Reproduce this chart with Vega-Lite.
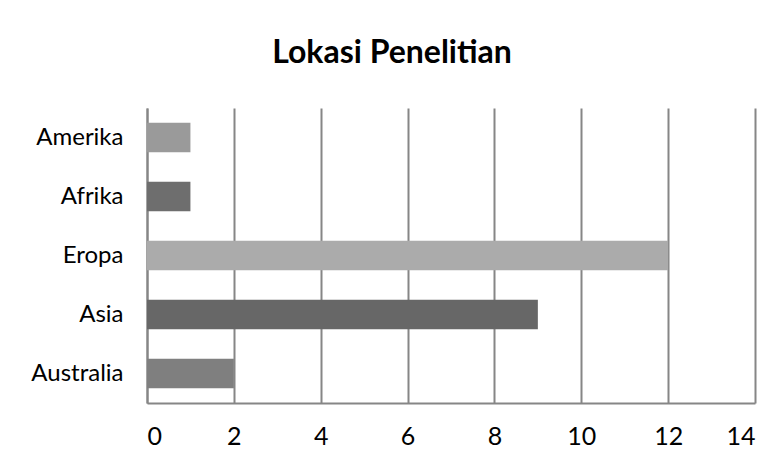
{
  "$schema": "https://vega.github.io/schema/vega-lite/v6.json",
  "width": 608,
  "height": 295,
  "autosize": {"type": "none"},
  "padding": {"left": 147, "top": 108, "right": 29, "bottom": 60},
  "background": "white",
  "title": {
    "text": "Lokasi Penelitian",
    "font": "Lato",
    "fontSize": 32,
    "fontWeight": "bold",
    "color": "black",
    "anchor": "middle",
    "dx": -59,
    "offset": 38
  },
  "data": {
    "values": [
      {"lokasi": "Amerika", "jumlah": 1, "warna": "#9a9a9a"},
      {"lokasi": "Afrika", "jumlah": 1, "warna": "#6e6e6e"},
      {"lokasi": "Eropa", "jumlah": 12, "warna": "#ababab"},
      {"lokasi": "Asia", "jumlah": 9, "warna": "#676767"},
      {"lokasi": "Australia", "jumlah": 2, "warna": "#7f7f7f"}
    ]
  },
  "mark": {"type": "bar"},
  "encoding": {
    "y": {
      "field": "lokasi",
      "type": "nominal",
      "sort": null,
      "scale": {"paddingInner": 0.5, "paddingOuter": 0.25},
      "axis": {
        "title": null,
        "labelFont": "Lato",
        "labelFontSize": 24,
        "labelColor": "black",
        "labelPadding": 24,
        "ticks": false,
        "domainColor": "#868686",
        "domainWidth": 2
      }
    },
    "x": {
      "field": "jumlah",
      "type": "quantitative",
      "scale": {"domain": [0, 14], "nice": false},
      "axis": {
        "title": null,
        "values": [0, 2, 4, 6, 8, 10, 12, 14],
        "labelFont": "Lato",
        "labelFontSize": 25,
        "labelColor": "black",
        "labelPadding": 21,
        "ticks": false,
        "domainColor": "#868686",
        "domainWidth": 2,
        "grid": true,
        "gridColor": "#868686",
        "gridWidth": 2,
        "gridOpacity": 1
      }
    },
    "color": {"field": "warna", "type": "nominal", "scale": null, "legend": null}
  },
  "config": {
    "view": {"stroke": null}
  }
}
